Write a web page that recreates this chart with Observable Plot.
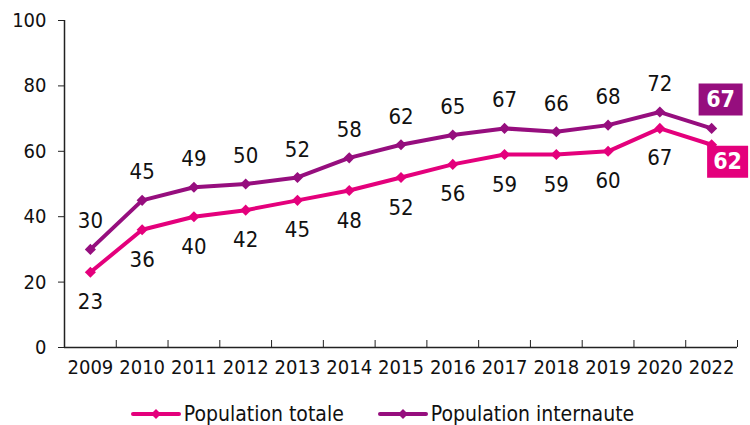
<!DOCTYPE html>
<html>
<head>
<meta charset="utf-8">
<script src="https://cdn.jsdelivr.net/npm/d3@7"></script>
<script src="https://cdn.jsdelivr.net/npm/@observablehq/plot@0.6"></script>
<style>
  html, body { margin: 0; padding: 0; background: #fff; }
  #chart { width: 750px; height: 425px; position: relative; font-family: "DejaVu Sans Condensed", "DejaVu Sans", sans-serif; font-stretch: condensed; }
  .legend { position: absolute; top: 402px; left: 0; width: 750px; display: flex; justify-content: center; gap: 34px; font-size: 21px; line-height: 24px; color: #111; padding-left: 15px; box-sizing: border-box; }
  .legend .item { display: flex; align-items: center; gap: 3px; }
</style>
</head>
<body>
<div id="chart"></div>
<script>
const years = ["2009","2010","2011","2012","2013","2014","2015","2016","2017","2018","2019","2020","2022"];
const populationTotale = [23,36,40,42,45,48,52,56,59,59,60,67,62];
const populationInternaute = [30,45,49,50,52,58,62,65,67,66,68,72,67];
const seriesNames = ["Population totale", "Population internaute"];
const colors = ["#e4007c", "#960e7e"];
const yTicks = [0,20,40,60,80,100];

const rows = [];
years.forEach((y, i) => {
  rows.push({i: i + 0.5, year: y, value: populationTotale[i], series: seriesNames[0]});
  rows.push({i: i + 0.5, year: y, value: populationInternaute[i], series: seriesNames[1]});
});
const tot = rows.filter(d => d.series === seriesNames[0]);
const net = rows.filter(d => d.series === seriesNames[1]);
const lastIdx = years.length - 1;
const totMain = tot.slice(0, lastIdx), totLast = tot.slice(lastIdx);
const netMain = net.slice(0, lastIdx), netLast = net.slice(lastIdx);

const boxSymbol = (w, h) => ({ draw(ctx) { ctx.rect(-w/2, -h/2, w, h); } });

const font = "DejaVu Sans Condensed, DejaVu Sans, sans-serif";

const plot = Plot.plot({
  width: 750,
  height: 395,
  marginLeft: 64,
  marginRight: 13,
  marginTop: 20,
  marginBottom: 48,
  style: { fontFamily: font, fontSize: "20px", color: "#111", background: "#fff", overflow: "visible" },
  x: { type: "linear", domain: [0, years.length], axis: null },
  y: { domain: [0, 100], axis: null },
  marks: [
    Plot.axisY({ ticks: yTicks, tickSize: 6, tickPadding: 12, label: null, fontSize: 20, stroke: "#222" }),
    Plot.axisX({ ticks: d3.range(years.length + 1), tickSize: -7, tickFormat: () => "", label: null, stroke: "#222" }),
    Plot.axisX({ ticks: years.map((_, i) => i + 0.5), tickSize: 0, tickPadding: 12, tickFormat: d => years[Math.floor(d)], label: null, fontSize: 20 }),
    Plot.ruleX([0], { stroke: "#222", strokeWidth: 1.5 }),
    Plot.ruleY([0], { stroke: "#222", strokeWidth: 1.5 }),
    Plot.line(tot, { x: "i", y: "value", stroke: colors[0], strokeWidth: 4 }),
    Plot.line(net, { x: "i", y: "value", stroke: colors[1], strokeWidth: 4 }),
    Plot.dot(tot, { x: "i", y: "value", symbol: "diamond2", r: 5, fill: colors[0] }),
    Plot.dot(net, { x: "i", y: "value", symbol: "diamond2", r: 5, fill: colors[1] }),
    Plot.text(netMain, { x: "i", y: "value", text: d => String(d.value), dy: -28, fill: "#111", fontSize: 22 }),
    Plot.text(totMain, { x: "i", y: "value", text: d => String(d.value), dy: 30, fill: "#111", fontSize: 22 }),
    Plot.dot(netLast, { x: "i", y: "value", symbol: boxSymbol(44, 32), r: 5, fill: colors[1], dx: 9, dy: -29 }),
    Plot.dot(totLast, { x: "i", y: "value", symbol: boxSymbol(41, 32), r: 5, fill: colors[0], dx: 16, dy: 17 }),
    Plot.text(netLast, { x: "i", y: "value", text: d => String(d.value), dx: 9, dy: -29, fill: "#fff", fontSize: 23, fontWeight: "bold" }),
    Plot.text(totLast, { x: "i", y: "value", text: d => String(d.value), dx: 16, dy: 17, fill: "#fff", fontSize: 23, fontWeight: "bold" })
  ]
});

const chart = document.getElementById("chart");
chart.appendChild(plot);

const legend = document.createElement("div");
legend.className = "legend";
seriesNames.forEach((name, k) => {
  const item = document.createElement("div");
  item.className = "item";
  item.innerHTML = `<svg width="50" height="14"><line x1="2" y1="7" x2="48" y2="7" stroke="${colors[k]}" stroke-width="4" stroke-linecap="round"/><path d="M25,2 L30,7 L25,12 L20,7 Z" fill="${colors[k]}"/></svg><span>${name}</span>`;
  legend.appendChild(item);
});
chart.appendChild(legend);
</script>
</body>
</html>
